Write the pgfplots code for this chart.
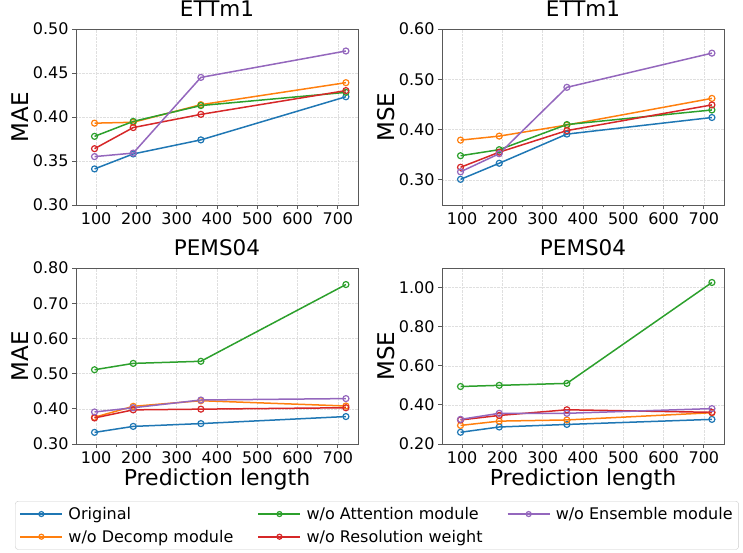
\documentclass[border=0pt]{standalone}
\usepackage{pgfplots}
\pgfplotsset{compat=1.18}
\usepackage{fontspec}
\setmainfont{DejaVu Sans}
\definecolor{tabblue}{HTML}{1F77B4}
\definecolor{taborange}{HTML}{FF7F0E}
\definecolor{tabgreen}{HTML}{2CA02C}
\definecolor{tabred}{HTML}{D62728}
\definecolor{tabpurple}{HTML}{9467BD}
\pgfplotsset{
  myax/.style={
    scale only axis, width=282pt, height=176pt,
    xmin=50, xmax=750,
    xtick={100,200,...,700}, minor x tick num=1,
    grid=major,
    major grid style={densely dotted, gray!25, line width=0.5pt},
    axis line style={black!65, line width=0.8pt},
    tick style={black!65, line width=0.8pt},
    tick align=outside,
    major tick length=4pt, minor tick length=2.5pt,
    xtick pos=bottom, ytick pos=left,
    tick label style={font=\fontsize{16}{19}\selectfont},
    /pgf/number format/assume math mode=true,
    yticklabel style={/pgf/number format/.cd, fixed, fixed zerofill, precision=2},
    xticklabel style={/pgf/number format/.cd, fixed, 1000 sep={}},
    title style={font=\fontsize{21.5}{25}\selectfont, at={(axis description cs:0.5,1.035)}, anchor=base},
    every axis y label/.style={at={(axis description cs:-0.197,0.5)}, rotate=90, anchor=center, font=\fontsize{23}{27}\selectfont},
    every axis x label/.style={at={(axis description cs:0.5,-0.20)}, anchor=center, font=\fontsize{22}{26}\selectfont},
    every axis plot/.append style={line width=1.5pt, mark=o, mark size=3pt, mark options={fill=white, solid, line width=1.2pt}},
  },
}
\begin{document}
\begin{tikzpicture}
\useasboundingbox (0pt,0pt) rectangle (743pt,552pt);
% Top-left: ETTm1 MAE
\begin{axis}[myax, at={(76pt,347pt)}, anchor=south west,
  title={ETTm1}, ylabel={MAE}, ymin=0.30, ymax=0.50, ytick={0.30,0.35,...,0.51}]
\addplot[tabblue] coordinates {(96,0.341) (192,0.358) (360,0.374) (720,0.423)};
\addplot[taborange] coordinates {(96,0.393) (192,0.394) (360,0.414) (720,0.439)};
\addplot[tabgreen] coordinates {(96,0.378) (192,0.395) (360,0.413) (720,0.428)};
\addplot[tabred] coordinates {(96,0.364) (192,0.388) (360,0.403) (720,0.430)};
\addplot[tabpurple] coordinates {(96,0.355) (192,0.359) (360,0.445) (720,0.475)};
\end{axis}
% Top-right: ETTm1 MSE
\begin{axis}[myax, at={(442pt,347pt)}, anchor=south west,
  title={ETTm1}, ylabel={MSE}, ymin=0.25, ymax=0.60, ytick={0.30,0.40,0.50,0.60}]
\addplot[tabblue] coordinates {(96,0.301) (192,0.333) (360,0.391) (720,0.424)};
\addplot[taborange] coordinates {(96,0.379) (192,0.387) (360,0.409) (720,0.462)};
\addplot[tabgreen] coordinates {(96,0.348) (192,0.360) (360,0.410) (720,0.439)};
\addplot[tabred] coordinates {(96,0.325) (192,0.355) (360,0.398) (720,0.449)};
\addplot[tabpurple] coordinates {(96,0.316) (192,0.352) (360,0.484) (720,0.552)};
\end{axis}
% Bottom-left: PEMS04 MAE
\begin{axis}[myax, at={(76pt,108pt)}, anchor=south west,
  title={PEMS04}, ylabel={MAE}, xlabel={Prediction length},
  ymin=0.30, ymax=0.80, ytick={0.30,0.40,...,0.81},
  legend columns=3,
  legend cell align=left,
  legend style={at={(axis description cs:-0.216,-0.324)}, anchor=north west,
    draw=black!20, rounded corners=3pt, fill=white,
    font=\fontsize{16}{19}\selectfont, row sep=5pt,
    inner xsep=4pt, inner ysep=4pt,
    /tikz/every odd column/.append style={column sep=3pt},
    /tikz/every even column/.append style={column sep=22pt}},
  legend image code/.code={\draw[#1, line width=2.2pt, mark repeat=2, mark phase=2, mark options={line width=1.2pt, mark size=2.5pt, fill=white}] plot coordinates {(0pt,0pt) (21pt,0pt) (42pt,0pt)};},
]
\addplot[tabblue, forget plot] coordinates {(96,0.333) (192,0.350) (360,0.358) (720,0.378)};
\addplot[taborange, forget plot] coordinates {(96,0.376) (192,0.407) (360,0.423) (720,0.408)};
\addplot[tabgreen, forget plot] coordinates {(96,0.511) (192,0.529) (360,0.535) (720,0.753)};
\addplot[tabred, forget plot] coordinates {(96,0.374) (192,0.397) (360,0.399) (720,0.403)};
\addplot[tabpurple, forget plot] coordinates {(96,0.391) (192,0.403) (360,0.425) (720,0.429)};
\addlegendimage{tabblue, mark=o}
\addlegendentry{Original}
\addlegendimage{tabgreen, mark=o}
\addlegendentry{w/o Attention module}
\addlegendimage{tabpurple, mark=o}
\addlegendentry{w/o Ensemble module}
\addlegendimage{taborange, mark=o}
\addlegendentry{w/o Decomp module}
\addlegendimage{tabred, mark=o}
\addlegendentry{w/o Resolution weight}
\end{axis}
% Bottom-right: PEMS04 MSE
\begin{axis}[myax, at={(442pt,108pt)}, anchor=south west,
  title={PEMS04}, ylabel={MSE}, xlabel={Prediction length},
  ymin=0.20, ymax=1.10, ytick={0.20,0.40,...,1.01}]
\addplot[tabblue] coordinates {(96,0.260) (192,0.287) (360,0.300) (720,0.326)};
\addplot[taborange] coordinates {(96,0.295) (192,0.317) (360,0.323) (720,0.360)};
\addplot[tabgreen] coordinates {(96,0.494) (192,0.500) (360,0.510) (720,1.026)};
\addplot[tabred] coordinates {(96,0.323) (192,0.346) (360,0.375) (720,0.362)};
\addplot[tabpurple] coordinates {(96,0.326) (192,0.357) (360,0.357) (720,0.381)};
\end{axis}
\end{tikzpicture}
\end{document}
